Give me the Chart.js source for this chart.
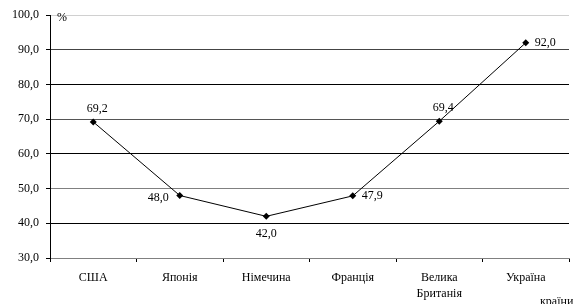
<!DOCTYPE html>
<html>
<head>
<meta charset="utf-8">
<script src="https://cdn.jsdelivr.net/npm/chart.js@4"></script>
<style>
  html, body { margin: 0; padding: 0; background: #fff; }
  #wrap { width: 573px; height: 304px; }
</style>
</head>
<body>
<div id="wrap"><canvas id="chart" width="573" height="304"></canvas></div>
<script>
// countries and share values (%)
const countries = ["США", "Японія", "Німечина", "Франція", ["Велика", "Британія"], "Україна"];
const shareValues = [69.2, 48.0, 42.0, 47.9, 69.4, 92.0];
const yTicks = [30, 40, 50, 60, 70, 80, 90, 100];

const FONT = "'Liberation Serif', 'Times New Roman', serif";

function fmt(v) {
    return v.toFixed(1).replace(".", ",");
}

// where each value label sits relative to its point
const labelPlaces = ["top", "left", "bottom", "right", "top", "right"];

// grid lines in the scan are of uneven darkness
const gridColors = ["#808080", "#000", "#808080", "#000", "#555", "#000", "#444", "#d0d0d0"];

const labelsPlugin = {
    id: "valueLabels",
    afterDatasetsDraw(chart) {
        let ctx = chart.ctx;
        let meta = chart.getDatasetMeta(0);
        ctx.save();
        ctx.font = "12px " + FONT;
        ctx.fillStyle = "#000";
        ctx.textBaseline = "middle";
        meta.data.forEach((pt, i) => {
            let text = fmt(shareValues[i]);
            let place = labelPlaces[i];
            if (place === "top") {
                ctx.textAlign = "center";
                ctx.fillText(text, pt.x + 4, pt.y - 13);
            } else if (place === "left") {
                ctx.textAlign = "right";
                ctx.fillText(text, pt.x - 11, pt.y + 2);
            } else if (place === "bottom") {
                ctx.textAlign = "center";
                ctx.fillText(text, pt.x, pt.y + 18);
            } else {
                ctx.textAlign = "left";
                ctx.fillText(text, pt.x + 9, pt.y);
            }
        });

        // unit mark and axis caption
        ctx.textAlign = "left";
        ctx.fillText("%", chart.chartArea.left + 7, chart.chartArea.top + 3);
        ctx.textBaseline = "top";
        ctx.fillText("країни", 540, 296);
        ctx.restore();
    }
};

let ctx = document.getElementById("chart").getContext("2d");

new Chart(ctx, {
    type: "line",
    data: {
        labels: countries,
        datasets: [{
            data: shareValues,
            borderColor: "#000",
            borderWidth: 1,
            backgroundColor: "#000",
            pointStyle: "rectRot",
            pointRadius: 3.5,
            pointBorderWidth: 0,
            pointBackgroundColor: "#000",
            fill: false,
            tension: 0
        }]
    },
    options: {
        responsive: false,
        animation: false,
        layout: { padding: { left: 0, right: 4, top: 15, bottom: 0 } },
        plugins: {
            legend: { display: false },
            tooltip: { enabled: false }
        },
        scales: {
            x: {
                offset: true,
                border: { color: "#808080", width: 1 },
                grid: {
                    offset: true,
                    drawOnChartArea: false,
                    tickLength: 4,
                    tickColor: "#000"
                },
                ticks: {
                    color: "#000",
                    padding: 8,
                    maxRotation: 0,
                    autoSkip: false,
                    font: { family: FONT, size: 12, lineHeight: 1.35 }
                },
                afterFit(scale) { scale.height = 46; }
            },
            y: {
                min: yTicks[0],
                max: yTicks[yTicks.length - 1],
                border: { color: "#000", width: 1 },
                grid: {
                    color: c => gridColors[c.index] || "#000",
                    lineWidth: 1,
                    tickLength: 4,
                    tickColor: "#000"
                },
                afterBuildTicks(scale) {
                    scale.ticks = yTicks.map(v => ({ value: v }));
                },
                ticks: {
                    color: "#000",
                    padding: 7,
                    callback: v => fmt(v),
                    font: { family: FONT, size: 12 }
                },
                afterFit(scale) { scale.width = 50; }
            }
        }
    },
    plugins: [labelsPlugin]
});
</script>
</body>
</html>
